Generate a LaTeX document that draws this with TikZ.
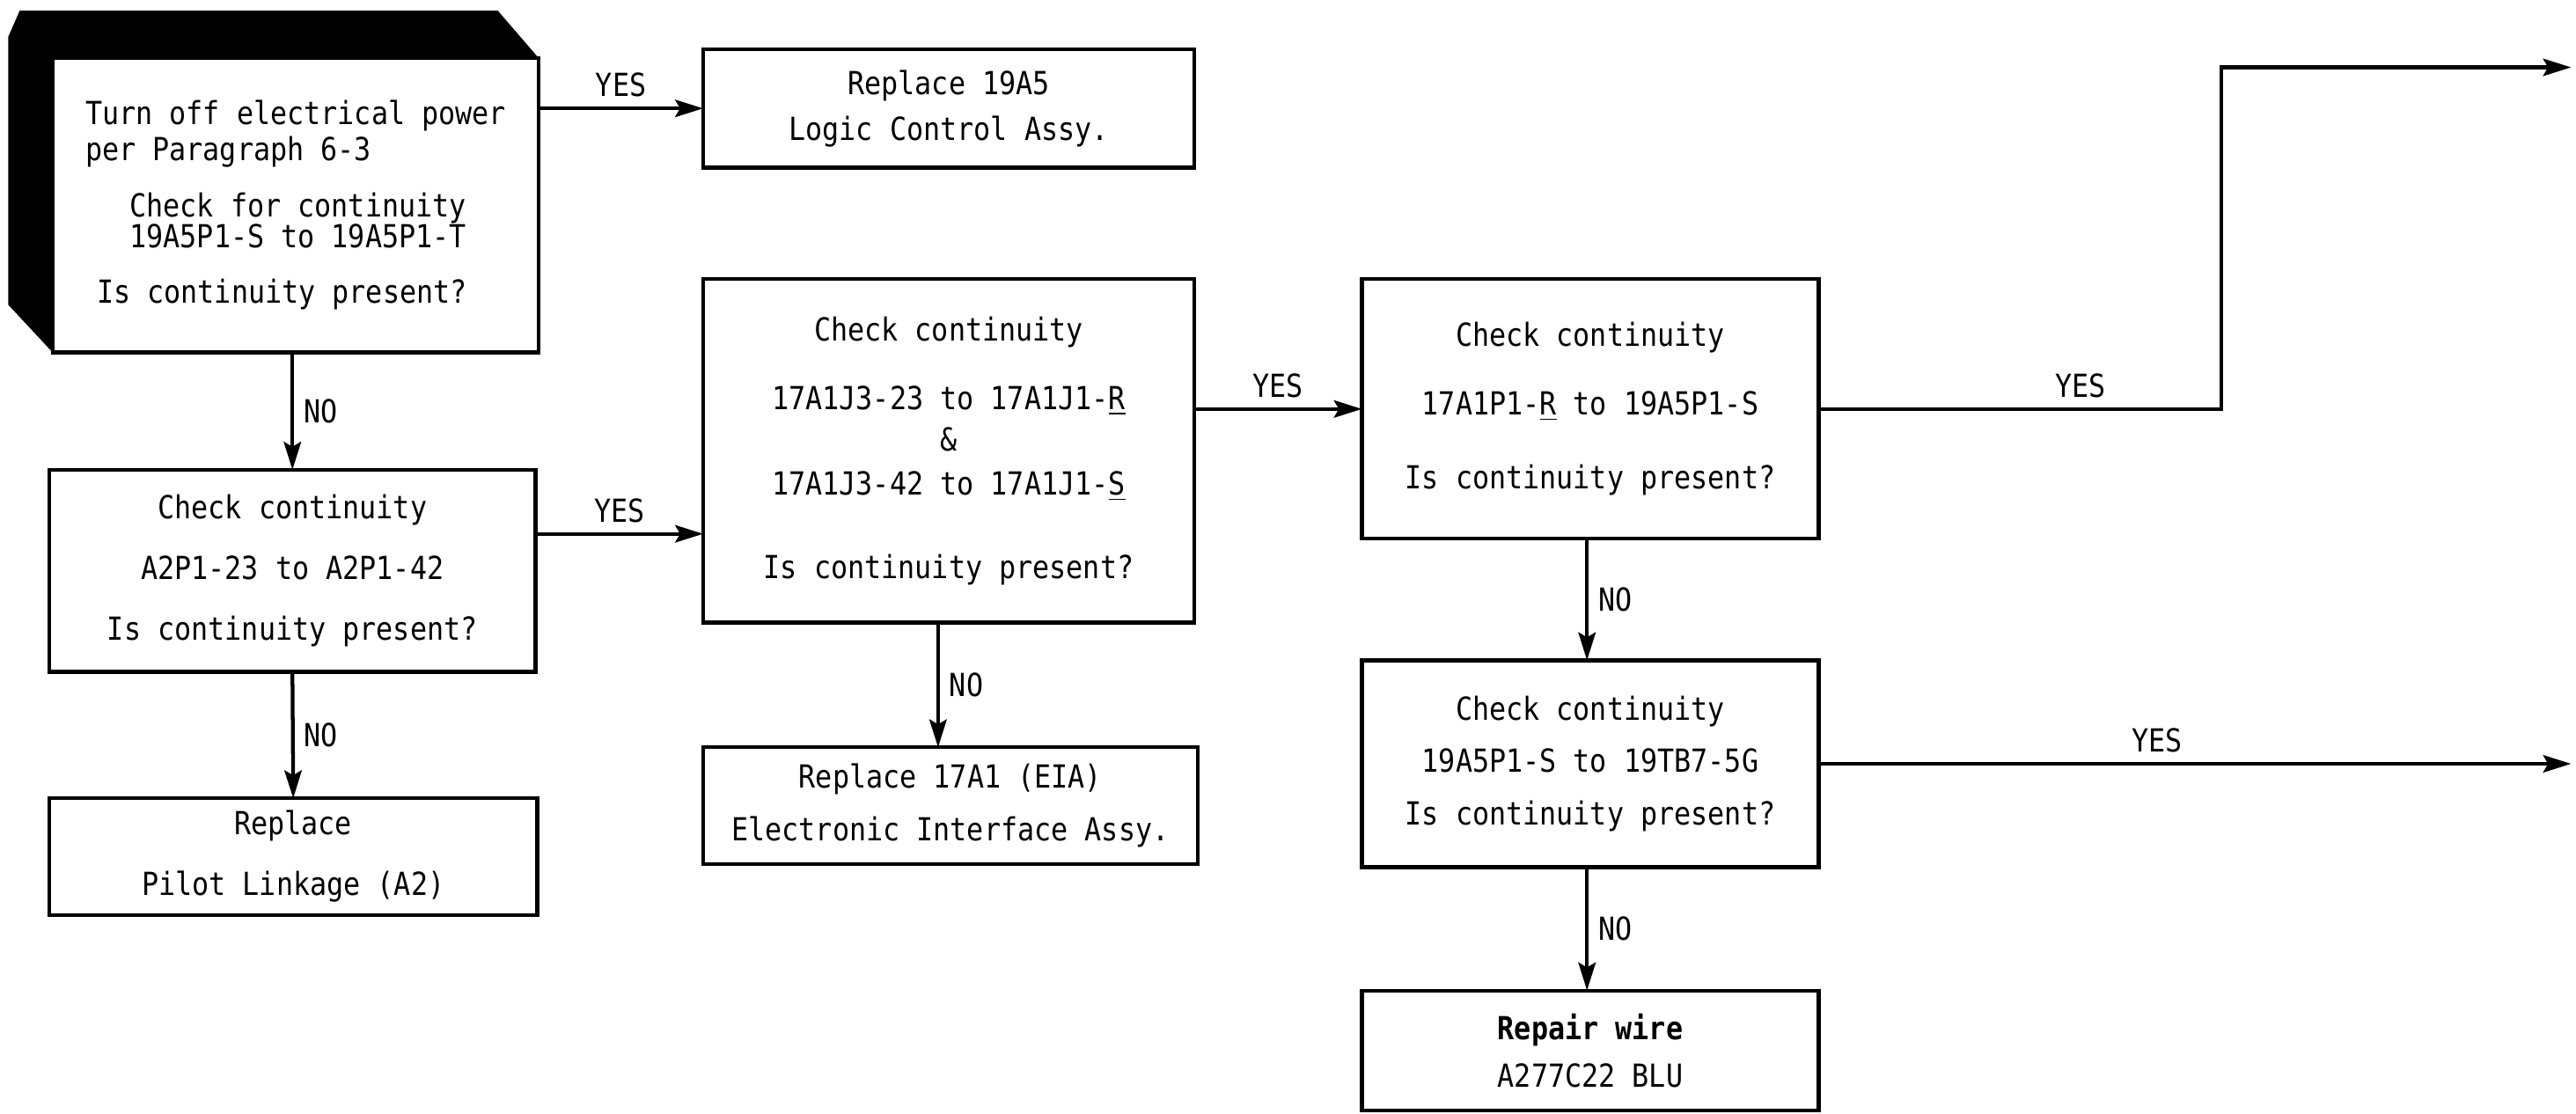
\documentclass[tikz,border=0pt]{standalone}
\usepackage{fontspec}
\usetikzlibrary{arrows.meta,positioning,backgrounds}
\newfontfamily\lettergothic[FakeStretch=0.88]{DejaVu Sans Mono}

\begin{document}
\begin{tikzpicture}[x=0.2mm, y=-0.2mm,
    box/.style={rectangle, draw=black, line width=1.3pt, fill=white, align=center, inner sep=0pt, outer sep=0pt, font=\lettergothic\fontsize{11}{12.5}\selectfont},
    arr/.style={-{Stealth[length=3.4mm, width=2.1mm, inset=0.6mm]}, line width=1.3pt},
    lbl/.style={font=\lettergothic\fontsize{11}{12.5}\selectfont}
]
    \useasboundingbox (0,0) rectangle (1568,678);

    % Start box with shadow
    \node[box, align=left, minimum width=59.2mm, minimum height=35.8mm] (start) at (180,125)
        {Turn off electrical power\\ per Paragraph 6-3\\[2.4mm]
         \hspace*{5.4mm}Check for continuity\\[-0.6mm]
         \hspace*{5.4mm}19A5P1-S to 19A5P1-T\\[2.4mm]
         \hspace*{1.4mm}Is continuity present?};
    \begin{scope}[on background layer]
        \fill[black] (start.north east) -- ++(-25,-29) -- ([shift={(-20,-29)}]start.north west)
            -- ([shift={(-27,-13)}]start.north west)
            -- ([shift={(-27,-29)}]start.south west) -- (start.south west) -- (start.north west) -- cycle;
    \end{scope}

    % Left column
    \node[box, minimum width=59.8mm, minimum height=14.4mm] (replLogic) at (577.5,66)
        {Replace 19A5\\[1.2mm] Logic Control Assy.};
    \node[box, minimum width=59.2mm, minimum height=24.6mm] (chkPilot) at (178,347.5)
        {Check continuity\\[3mm] A2P1-23 to A2P1-42\\[3mm] Is continuity present?};
    \node[box, minimum width=59.4mm, minimum height=14.2mm] (replPilot) at (178.5,521.5)
        {Replace\\[3mm] Pilot Linkage (A2)};

    % Middle column
    \node[box, minimum width=59.8mm, minimum height=41.8mm] (chkEia) at (577.5,274.5)
        {Check continuity\\[4mm] 17A1J3-23 to 17A1J1-\underline{R}\\[0.6mm] \&\\[1mm]
         17A1J3-42 to 17A1J1-\underline{S}\\[5.8mm] Is continuity present?};
    \node[box, minimum width=60.2mm, minimum height=14.2mm] (replEia) at (578.5,490.5)
        {Replace 17A1 (EIA)\\[2mm] Electronic Interface Assy.};

    % Right column
    \node[box, minimum width=55.6mm, minimum height=31.6mm] (chkWireR) at (968,249)
        {Check continuity\\[4mm] 17A1P1-\underline{R} to 19A5P1-S\\[4.6mm] Is continuity present?};
    \node[box, minimum width=55.6mm, minimum height=25.2mm] (chkWireG) at (968,465)
        {Check continuity\\[2mm] 19A5P1-S to 19TB7-5G\\[2mm] Is continuity present?};
    \node[box, minimum width=55.6mm, minimum height=14.6mm] (repWire) at (968,639.5)
        {\textbf{Repair wire}\\[1.4mm] A277C22 BLU};

    % Exits off the page
    \coordinate (turnR) at (1352,41);
    \coordinate (exitR) at (1565,41);
    \coordinate (exitG) at (1565,465);
    \coordinate (c2e) at (326,325);

    % YES connectors
    \draw[arr] (start.east |- replLogic.west) -- node[lbl, above]{YES} (replLogic.west);
    \draw[arr] (c2e) -- node[lbl, above]{YES} (c2e -| chkEia.west);
    \draw[arr] (chkEia.east |- chkWireR.west) -- node[lbl, above]{YES} (chkWireR.west);
    \draw[arr] (chkWireR.east) -- node[lbl, above, pos=0.65]{YES} (chkWireR.east -| turnR) -- (turnR) -- (exitR);
    \draw[arr] (chkWireG.east) -- node[lbl, above, pos=0.45]{YES} (exitG);

    % NO connectors
    \draw[arr] (chkPilot.north |- start.south) -- node[lbl, right]{NO} (chkPilot.north);
    \draw[arr] (chkPilot.south) -- node[lbl, right]{NO} (replPilot.north);
    \draw[arr] ([xshift=-1.3mm]chkEia.south) -- node[lbl, right]{NO} ([xshift=-1.3mm]chkEia.south |- replEia.north);
    \draw[arr] ([xshift=-0.4mm]chkWireR.south) -- node[lbl, right]{NO} ([xshift=-0.4mm]chkWireG.north);
    \draw[arr] ([xshift=-0.4mm]chkWireG.south) -- node[lbl, right]{NO} ([xshift=-0.4mm]repWire.north);
\end{tikzpicture}
\end{document}
